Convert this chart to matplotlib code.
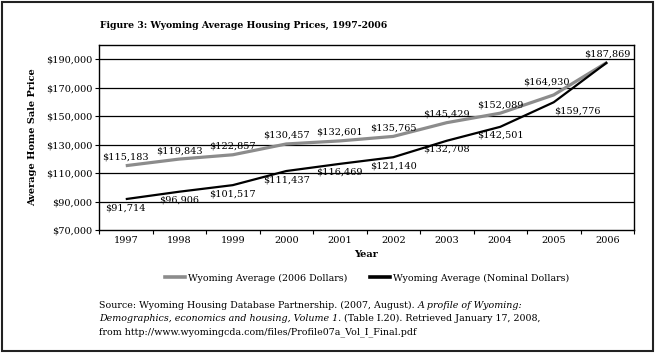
import matplotlib
matplotlib.use("Agg")
import matplotlib.pyplot as plt
from matplotlib.patches import Rectangle
from matplotlib.lines import Line2D

years = ["1997", "1998", "1999", "2000", "2001", "2002", "2003", "2004", "2005", "2006"]
real_2006 = [115183, 119843, 122857, 130457, 132601, 135765, 145429, 152089, 164930, 187869]
nominal = [91714, 96906, 101517, 111437, 116469, 121140, 132708, 142501, 159776, 187869]
yticks = [70000, 90000, 110000, 130000, 150000, 170000, 190000]

plt.rcParams['font.family'] = ['DejaVu Serif']
FS = 7

fig = plt.figure(figsize=(6.56, 3.53), dpi=100)
ax = fig.add_axes([99/656, 1-230/353, 535/656, 185/353])

x = list(range(len(years)))
ax.plot(x, real_2006, color='#8c8c8c', lw=2.3, solid_capstyle='butt', zorder=3)
ax.plot(x, nominal, color='black', lw=1.6, solid_capstyle='butt', zorder=4)

ax.set_xlim(-0.5, len(years) - 0.5)
ax.set_ylim(70000, 200000)
ax.set_yticks(yticks)
ax.set_yticklabels([f"${v:,.0f}" for v in yticks], fontsize=FS)
ax.set_xticks(x)
ax.set_xticklabels(years, fontsize=FS)
ax.tick_params(axis='x', length=0, pad=4)
ax.set_xticks([i - 0.5 for i in range(len(years) + 1)], minor=True)
ax.tick_params(axis='x', which='minor', length=3, direction='out', width=0.8)
ax.tick_params(axis='y', length=3, width=0.8, pad=2)
for g in [90000, 110000, 130000, 150000, 170000, 190000]:
    ax.axhline(g, color='black', lw=0.9, zorder=1)
for s in ax.spines.values():
    s.set_linewidth(1.0)

ax.set_xlabel("Year", fontsize=FS, fontweight='bold', labelpad=4)
ax.set_ylabel("Average Home Sale Price", fontsize=FS, fontweight='bold', labelpad=6)

# data labels
for i, v in enumerate(real_2006):
    dx, dy = 0, 4
    if i == 8:
        dx, dy = -7, 8
    ax.annotate(f"${v:,.0f}", (i, v), xytext=(dx, dy), textcoords='offset pixels',
                ha='center', va='bottom', fontsize=FS, zorder=5)
for i, v in enumerate(nominal):
    if i == 9:
        continue
    dx, dy = 0, -4
    if i == 8:
        dx, dy = 24, -4
    ax.annotate(f"${v:,.0f}", (i, v), xytext=(dx, dy), textcoords='offset pixels',
                ha='center', va='top', fontsize=FS, zorder=5)

fig.text(100/656, 1-25/353, "Figure 3: Wyoming Average Housing Prices, 1997-2006",
         fontsize=6.7, fontweight='bold', ha='left', va='center')

handles = [Line2D([], [], color='#8c8c8c', lw=2.6),
           Line2D([], [], color='black', lw=2.6)]
fig.legend(handles, ["Wyoming Average (2006 Dollars)", "Wyoming Average (Nominal Dollars)"],
           loc='center', bbox_to_anchor=(367/656, 1-278/353), ncol=2, frameon=False,
           fontsize=6.8, handlelength=2.1, handletextpad=0.3, columnspacing=2.4)

# source text with mixed italic
SFS = 6.8
y1 = 1 - 308/353
y2 = 1 - 321/353
y3 = 1 - 334/353
xs = 99/656
t1 = fig.text(xs, y1, "Source: Wyoming Housing Database Partnership. (2007, August). ",
              fontsize=SFS, ha='left', va='baseline')
ax.annotate("A profile of Wyoming:", xy=(1, 0), xycoords=t1, fontsize=SFS,
            style='italic', ha='left', va='bottom', annotation_clip=False)
t2 = fig.text(xs, y2, "Demographics, economics and housing, Volume 1.",
              fontsize=SFS, style='italic', ha='left', va='baseline')
ax.annotate(" (Table I.20). Retrieved January 17, 2008,", xy=(1, 0), xycoords=t2,
            fontsize=SFS, ha='left', va='bottom', annotation_clip=False)
fig.text(xs, y3, "from http://www.wyomingcda.com/files/Profile07a_Vol_I_Final.pdf",
         fontsize=SFS, ha='left', va='baseline')

fig.patches.append(Rectangle((2/656, 2/353), 651/656, 349/353, transform=fig.transFigure,
                             fill=False, edgecolor='#222222', lw=1.5, figure=fig))

fig.savefig("out.png", dpi=100)
